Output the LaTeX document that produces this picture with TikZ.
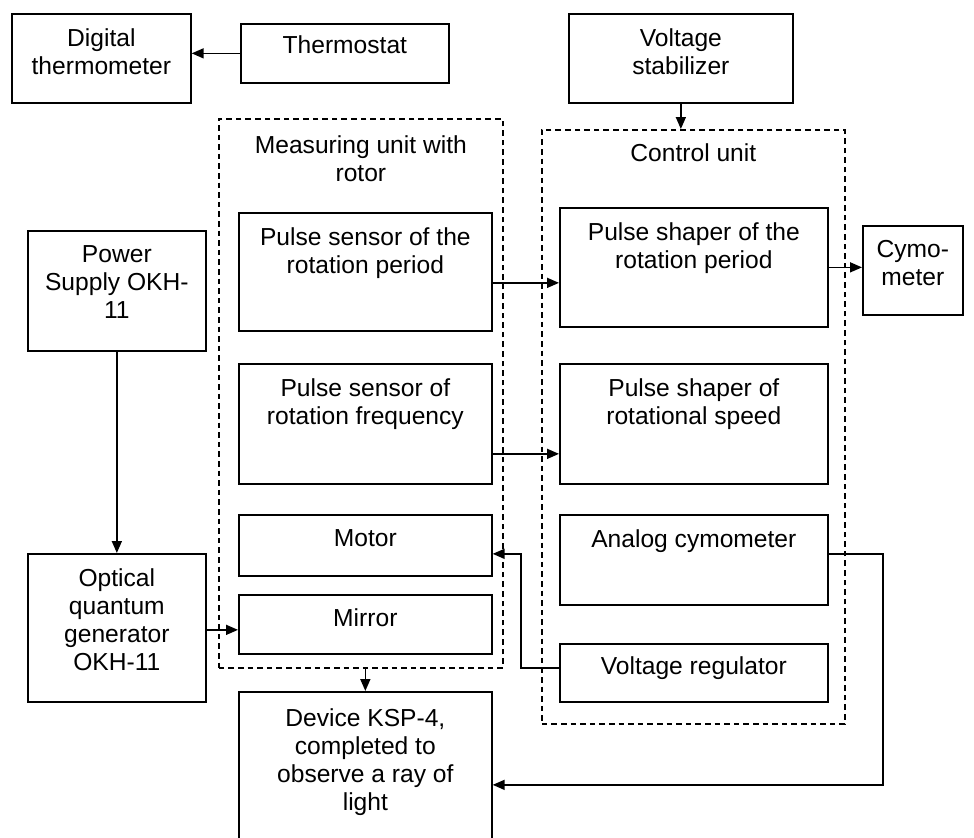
\documentclass[tikz,border=0pt]{standalone}
\usepackage{fontspec}
\setmainfont{Liberation Sans}
\usetikzlibrary{positioning}
\usetikzlibrary{arrows.meta}

\begin{document}
\begin{tikzpicture}[x=0.5pt,y=-0.5pt,
  font=\fontsize{12.3}{14}\selectfont,
  blk/.style 2 args={draw,line width=0.85pt,inner sep=0pt,anchor=north west,
    minimum width=#1*0.5pt,minimum height=#2*0.5pt},
  unit/.style 2 args={blk={#1}{#2},dash pattern=on 2.8pt off 2pt},
  boxtext/.style={anchor=north,yshift=-7.5pt,align=center,inner sep=0pt},
  arr/.style={-{Triangle[length=6pt,width=5pt]},line width=0.8pt}]
\clip (0,0) rectangle (974,837);

% The blocks outside the two units.
\node[blk={179}{89},label={[boxtext]north:{Digital\\thermometer}}] (dth) at (11,13) {};
\node[blk={208}{59},label={[boxtext,yshift=1.5pt]north:{Thermostat}}] (tst) at (240,23) {};
\node[blk={224}{89},label={[boxtext]north:{Voltage\\stabilizer}}] (vst) at (568,13) {};
\node[blk={178}{120},label={[boxtext]north:{Power\\Supply OKH-\\11}}] (pws) at (27,230) {};
\node[blk={178}{148},label={[boxtext]north:{Optical\\quantum\\generator\\OKH-11}}] (oqg) at (27,553) {};
\node[blk={100}{89},label={[boxtext]north:{Cymo-\\meter}}] (cym) at (862,225) {};
\node[blk={253}{200},label={[boxtext,yshift=-1pt]north:{Device KSP-4,\\completed to\\observe a ray of\\light}}] (dev) at (238,691) {};

% Measuring unit with rotor.
\node[unit={284}{549},label={[boxtext,yshift=-1pt]north:{Measuring unit with\\rotor}}] (meas) at (218,118) {};
\node[blk={253}{118},label={[boxtext]north:{Pulse sensor of the\\rotation period}}] (psp) at (238,212) {};
\node[blk={253}{120},label={[boxtext]north:{Pulse sensor of\\rotation frequency}}] (psf) at (238,363) {};
\node[blk={253}{61},label={[boxtext]north:{Motor}}] (mot) at (238,514) {};
\node[blk={253}{59},label={[boxtext,yshift=0.5pt]north:{Mirror}}] (mir) at (238,594) {};

% Control unit.
\node[unit={303}{594},label={[boxtext,yshift=0.5pt]north:{Control unit}}] (ctrl) at (541,129) {};
\node[blk={268}{119},label={[boxtext]north:{Pulse shaper of the\\rotation period}}] (shp) at (559,207) {};
\node[blk={268}{120},label={[boxtext]north:{Pulse shaper of\\rotational speed}}] (shs) at (559,363) {};
\node[blk={268}{90},label={[boxtext]north:{Analog cymometer}}] (acy) at (559,514) {};
\node[blk={268}{58},label={[boxtext,yshift=1pt]north:{Voltage regulator}}] (vrg) at (559,643) {};

% Connections.
\draw[arr] (tst.west) -- (tst.west -| dth.east);
\draw[arr] (vst.south) -- (vst.south |- ctrl.north);
\draw[arr] (pws.south) -- (oqg.north);
\coordinate (a1) at ([yshift=-5.5pt]psp.east);
\draw[arr] (a1) -- (a1 -| shp.west);
\coordinate (a2) at ([yshift=-15pt]psf.east);
\draw[arr] (a2) -- (a2 -| shs.west);
\draw[arr] (shp.east) -- (shp.east -| cym.west);
\coordinate (a3) at ([yshift=-2.75pt]mir.west);
\draw[arr] (a3 -| oqg.east) -- (a3);
\draw[arr] (dev.north |- meas.south) -- (dev.north);
\coordinate (a4) at ([yshift=2.5pt]vrg.west);
\coordinate (a5) at ([yshift=-4.25pt]mot.east);
\draw[arr] (a4) -- ++(-38,0) |- (a5);
\coordinate (a6) at ([yshift=3pt]acy.east);
\draw[arr] (a6) -- ++(54,0) |- ([yshift=3.5pt]dev.east);
\end{tikzpicture}
\end{document}
